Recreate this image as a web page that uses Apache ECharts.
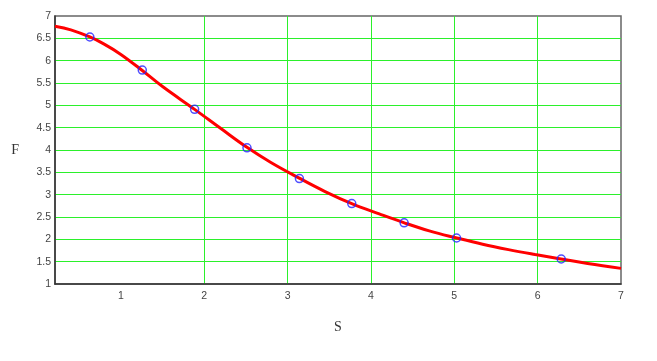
<!DOCTYPE html>
<html>
<head>
<meta charset="utf-8">
<script src="https://cdn.jsdelivr.net/npm/echarts@6/dist/echarts.min.js"></script>
<style>html,body{margin:0;padding:0;background:#fff}#c{width:657px;height:361px}</style>
</head>
<body>
<div id="c"></div>
<script>
// Fitted curve
const curveS = [0.21, 0.4, 0.628, 0.8, 1.0, 1.257, 1.5, 1.885, 2.2, 2.513, 2.8, 3.14, 3.45, 3.77, 4.1, 4.40, 4.7, 5.03, 5.34, 5.65, 5.97, 6.28, 6.6, 7.0];
const curveF = [6.77, 6.69, 6.53, 6.37, 6.14, 5.78, 5.42, 4.91, 4.48, 4.06, 3.72, 3.37, 3.07, 2.80, 2.57, 2.37, 2.19, 2.03, 1.89, 1.77, 1.66, 1.56, 1.46, 1.35];
// Measured points
const pointS = [0.628, 1.257, 1.885, 2.513, 3.142, 3.770, 4.398, 5.027, 6.283];
const pointF = [6.53, 5.79, 4.91, 4.05, 3.36, 2.80, 2.37, 2.03, 1.56];
const xTicks = [1, 2, 3, 4, 5, 6, 7];

const chart = echarts.init(document.getElementById('c'), null, {renderer: 'canvas'});
const labelStyle = {color: '#444', fontFamily: 'Liberation Sans', fontSize: 10.5};
chart.setOption({
  animation: false,
  grid: {left: 55, right: 36, top: 16, bottom: 77, show: true, borderColor: '#666', borderWidth: 1.5, backgroundColor: 'transparent'},
  xAxis: {
    type: 'value', min: 0.21, max: 7,
    name: 'S', nameLocation: 'middle', nameGap: 36,
    nameTextStyle: {fontFamily: 'Liberation Serif', fontSize: 14, color: '#333'},
    axisLine: {show: true, lineStyle: {color: '#333', width: 1.5}},
    axisTick: {show: false, customValues: xTicks},
    axisLabel: Object.assign({margin: 7, customValues: xTicks}, labelStyle),
    splitLine: {show: true, showMinLine: false, showMaxLine: false, lineStyle: {color: '#2bf02b', width: 1}}
  },
  yAxis: {
    type: 'value', min: 1, max: 7, interval: 0.5,
    name: 'F', nameLocation: 'middle', nameGap: 36, nameRotate: 0,
    nameTextStyle: {fontFamily: 'Liberation Serif', fontSize: 14, color: '#333'},
    axisLine: {show: true, lineStyle: {color: '#333', width: 1.5}},
    axisTick: {show: false},
    axisLabel: Object.assign({margin: 4}, labelStyle),
    splitLine: {show: true, showMinLine: false, showMaxLine: false, lineStyle: {color: '#2bf02b', width: 1}}
  },
  series: [
    {
      type: 'line', smooth: 0.4, showSymbol: false,
      data: curveS.map((s, i) => [s, curveF[i]]),
      lineStyle: {color: '#ff0000', width: 3},
      z: 3
    },
    {
      type: 'scatter', symbol: 'circle', symbolSize: 8,
      data: pointS.map((s, i) => [s, pointF[i]]),
      itemStyle: {color: 'transparent', borderColor: '#2222ff', borderWidth: 1.5},
      z: 4
    }
  ]
});
</script>
</body>
</html>
